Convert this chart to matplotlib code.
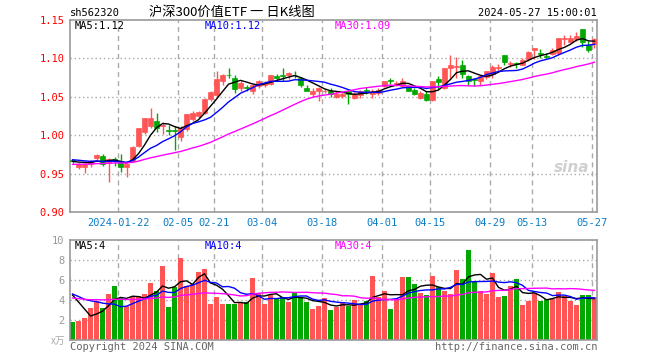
import numpy as np
import pandas as pd
import matplotlib
matplotlib.use("Agg")
import matplotlib.pyplot as plt

# daily bars, 2024-01-10 .. 2024-05-27 (88 sessions)
opens = [0.968, 0.959, 0.958, 0.962, 0.970, 0.973, 0.964, 0.969, 0.966, 0.958,
         0.967, 0.986, 1.004, 1.012, 1.018, 1.012, 1.007, 1.007, 0.998, 1.008,
         1.021, 1.025, 1.029, 1.047, 1.052, 1.071, 1.079, 1.074, 1.062, 1.063,
         1.058, 1.064, 1.066, 1.067, 1.077, 1.078, 1.079, 1.079, 1.074, 1.062,
         1.053, 1.058, 1.057, 1.058, 1.050, 1.051, 1.057, 1.048, 1.052, 1.059,
         1.054, 1.055, 1.064, 1.072, 1.067, 1.064, 1.064, 1.059, 1.048, 1.054,
         1.046, 1.073, 1.062, 1.088, 1.089, 1.091, 1.077, 1.073, 1.070, 1.076,
         1.080, 1.088, 1.104, 1.093, 1.094, 1.092, 1.099, 1.111, 1.107, 1.103,
         1.106, 1.107, 1.125, 1.122, 1.125, 1.138, 1.117, 1.119]
highs = [0.969, 0.964, 0.965, 0.968, 0.975, 0.975, 0.970, 0.971, 0.975, 0.963,
         0.986, 1.010, 1.023, 1.035, 1.029, 1.017, 1.013, 1.012, 1.012, 1.028,
         1.031, 1.032, 1.048, 1.057, 1.084, 1.080, 1.088, 1.078, 1.070, 1.066,
         1.067, 1.072, 1.070, 1.079, 1.080, 1.088, 1.082, 1.084, 1.076, 1.066,
         1.062, 1.063, 1.060, 1.062, 1.057, 1.056, 1.058, 1.056, 1.059, 1.063,
         1.060, 1.061, 1.071, 1.075, 1.071, 1.074, 1.066, 1.061, 1.057, 1.057,
         1.071, 1.077, 1.088, 1.104, 1.102, 1.098, 1.078, 1.075, 1.079, 1.084,
         1.091, 1.093, 1.105, 1.096, 1.095, 1.100, 1.109, 1.114, 1.112, 1.107,
         1.113, 1.127, 1.131, 1.131, 1.134, 1.138, 1.123, 1.127]
lows = [0.964, 0.956, 0.951, 0.958, 0.968, 0.960, 0.939, 0.960, 0.952, 0.946,
        0.965, 0.984, 1.002, 1.010, 1.004, 1.001, 1.000, 0.981, 0.992, 1.006,
        1.019, 1.023, 1.027, 1.045, 1.050, 1.066, 1.075, 1.055, 1.058, 1.058,
        1.053, 1.062, 1.063, 1.065, 1.071, 1.071, 1.073, 1.074, 1.063, 1.057,
        1.050, 1.045, 1.055, 1.050, 1.048, 1.049, 1.041, 1.047, 1.049, 1.054,
        1.048, 1.052, 1.063, 1.067, 1.064, 1.063, 1.057, 1.052, 1.047, 1.044,
        1.045, 1.060, 1.060, 1.073, 1.075, 1.075, 1.065, 1.064, 1.066, 1.073,
        1.075, 1.083, 1.091, 1.089, 1.088, 1.091, 1.096, 1.099, 1.100, 1.100,
        1.104, 1.105, 1.118, 1.120, 1.123, 1.115, 1.108, 1.114]
closes = [0.966, 0.962, 0.963, 0.966, 0.974, 0.963, 0.969, 0.966, 0.958, 0.962,
          0.985, 1.009, 1.022, 1.022, 1.010, 1.013, 1.006, 1.005, 1.010, 1.027,
          1.029, 1.030, 1.047, 1.056, 1.073, 1.078, 1.078, 1.060, 1.068, 1.062,
          1.066, 1.070, 1.068, 1.078, 1.074, 1.077, 1.081, 1.078, 1.066, 1.058,
          1.058, 1.062, 1.058, 1.053, 1.054, 1.053, 1.053, 1.053, 1.057, 1.058,
          1.058, 1.059, 1.070, 1.071, 1.068, 1.070, 1.058, 1.054, 1.055, 1.046,
          1.070, 1.069, 1.087, 1.091, 1.090, 1.080, 1.071, 1.072, 1.077, 1.083,
          1.089, 1.089, 1.095, 1.094, 1.093, 1.098, 1.108, 1.113, 1.106, 1.102,
          1.111, 1.126, 1.127, 1.126, 1.129, 1.121, 1.111, 1.125]
# volume, 万手
volumes = [1.8, 1.9, 2.2, 3.2, 3.9, 3.2, 4.6, 5.4, 4.2, 3.4,
           4.3, 4.4, 4.6, 5.7, 4.9, 7.4, 3.3, 5.3, 8.2, 5.4,
           5.6, 6.8, 7.1, 3.6, 4.3, 3.6, 3.6, 3.6, 3.7, 3.8,
           6.2, 4.7, 3.6, 4.5, 4.1, 4.3, 3.8, 4.7, 4.3, 3.8,
           3.1, 3.4, 4.2, 3.0, 3.3, 3.7, 3.4, 4.0, 3.6, 3.9,
           6.4, 4.3, 4.9, 3.1, 4.0, 6.3, 6.3, 5.6, 4.7, 4.5,
           6.4, 5.3, 4.9, 4.6, 7.0, 6.1, 9.0, 5.8, 4.9, 4.6,
           6.7, 4.3, 4.4, 5.4, 6.1, 3.5, 3.9, 4.7, 3.9, 4.1,
           4.1, 4.8, 4.4, 3.9, 3.5, 4.5, 4.5, 4.3]

# earlier sessions, only used to seed the moving averages
hist_close = [0.958, 0.960, 0.957, 0.959, 0.961, 0.958, 0.956, 0.959, 0.960, 0.962,
              0.958, 0.957, 0.959, 0.961, 0.960, 0.958, 0.957, 0.960, 0.961, 0.959,
              0.968, 0.971, 0.972, 0.969, 0.970, 0.967, 0.965, 0.968, 0.964]
hist_vol = [3.8, 4.2, 4.5, 3.6, 4.1, 3.9, 4.4, 3.7, 4.0, 4.3,
            3.9, 4.1, 3.6, 4.2, 4.0, 4.5, 3.8, 3.7, 4.1, 3.6,
            4.4, 5.0, 4.6, 4.9, 4.6, 5.4, 5.7, 6.7, 2.9]

date_idx = [8, 18, 24, 32, 42, 52, 60, 70, 77, 87]
date_labels = ["2024-01-22", "02-05", "02-21", "03-04", "03-18",
               "04-01", "04-15", "04-29", "05-13", "05-27"]

RED = "#ff5555"
GREEN = "#00a800"
GRID = "#aaaaaa"
MONO = "DejaVu Sans Mono"
CJK = ["Noto Sans CJK SC", "DejaVu Sans"]

o = np.array(opens); h = np.array(highs); l = np.array(lows); c = np.array(closes)
v = np.array(volumes)
n = len(c)
x = np.arange(n)
cols = [RED if cc >= oo else GREEN for oo, cc in zip(o, c)]


def ma(hist, vals, k):
    s = pd.Series(list(hist) + list(vals)).rolling(k).mean()
    return s.values[len(hist):]


W, H = 660, 360
fig = plt.figure(figsize=(6.6, 3.6), dpi=100)
ax = fig.add_axes([70 / W, 1 - 212 / H, 527 / W, 192 / H])
axv = fig.add_axes([70 / W, 1 - 340 / H, 527 / W, 100 / H])

for a in (ax, axv):
    a.set_xlim(-0.42, n - 0.58)
    for s in a.spines.values():
        s.set_color("#999999")
        s.set_linewidth(1.2)
    for d in date_idx:
        a.axvline(d - 0.37, color=GRID, lw=1.0, dashes=(3.6, 2.9), zorder=0)
    a.tick_params(length=0)

# ---- price panel
ax.set_ylim(0.90, 1.15)
for yv in [0.95, 1.00, 1.05, 1.10]:
    ax.axhline(yv, color=GRID, lw=1.0, ls=(0, (1, 2)), zorder=0)
ax.vlines(x, l, h, colors=cols, lw=1.0, zorder=2)
ax.bar(x, np.abs(c - o), bottom=np.minimum(o, c), width=0.8, color=cols,
       edgecolor=cols, linewidth=0.5, zorder=3)
ax.plot(x, ma(hist_close, c, 5), color="black", lw=1.0, zorder=4)
ax.plot(x, ma(hist_close, c, 10), color="#0000ff", lw=1.0, zorder=4)
ax.plot(x, ma(hist_close, c, 30), color="#ff00ff", lw=1.0, zorder=4)

ax.set_yticks([0.90, 0.95, 1.00, 1.05, 1.10, 1.15])
ax.set_yticklabels(["0.90", "0.95", "1.00", "1.05", "1.10", "1.15"],
                   family=MONO, fontsize=7.5, color="red")
ax.set_xticks([d - 0.37 for d in date_idx])
ax.set_xticklabels(date_labels, family=MONO, fontsize=7.5, color="#0a7dc8")
ax.tick_params(axis="y", pad=4)
ax.tick_params(axis="x", pad=4)

# ---- volume panel
axv.set_ylim(0, 10)
for yv in [2, 4, 6, 8]:
    axv.axhline(yv, color=GRID, lw=1.0, ls=(0, (1, 2)), zorder=0)
axv.bar(x, v, width=0.8, color=cols, zorder=2)
axv.plot(x, ma(hist_vol, v, 5), color="black", lw=1.0, zorder=4)
axv.plot(x, ma(hist_vol, v, 10), color="#0000ff", lw=1.0, zorder=4)
axv.plot(x, ma(hist_vol, v, 30), color="#ff00ff", lw=1.0, zorder=4)
axv.set_yticks([2, 4, 6, 8, 10])
axv.set_yticklabels(["2", "4", "6", "8", "10"], family=MONO, fontsize=7.5, color="#999999")
axv.tick_params(axis="y", pad=4)
axv.set_xticks([])


def ftext(px, py, s, **kw):
    fig.text(px / W, 1 - py / H, s, va="center", **kw)


ftext(70, 13, "sh562320", family=MONO, fontsize=7.5, color="black")
ftext(232, 12.5, "沪深300价值ETF 一 日K线图", family=CJK, fontsize=9.5,
      color="black", ha="center")
ftext(597, 13, "2024-05-27 15:00:01", family=MONO, fontsize=7.5, color="black", ha="right")

ftext(75, 26, "MA5:1.12", family=MONO, fontsize=7.5, color="black")
ftext(205, 26, "MA10:1.12", family=MONO, fontsize=7.5, color="#0000ff")
ftext(335, 26, "MA30:1.09", family=MONO, fontsize=7.5, color="#ff00ff")
ftext(75, 246, "MA5:4", family=MONO, fontsize=7.5, color="black")
ftext(205, 246, "MA10:4", family=MONO, fontsize=7.5, color="#0000ff")
ftext(335, 246, "MA30:4", family=MONO, fontsize=7.5, color="#ff00ff")

ftext(65, 341, "x万", family=CJK, fontsize=7, color="#aaaaaa", ha="right")
ftext(70, 347, "Copyright 2024 SINA.COM", family=MONO, fontsize=7.5, color="#666666")
ftext(597, 347, "http://finance.sina.com.cn", family=MONO, fontsize=7.5,
      color="#666666", ha="right")
ftext(572, 168, "sina", fontsize=11, color="#d0d0d0", style="italic",
      weight="bold", ha="center")

fig.savefig("out.png", dpi=100)
